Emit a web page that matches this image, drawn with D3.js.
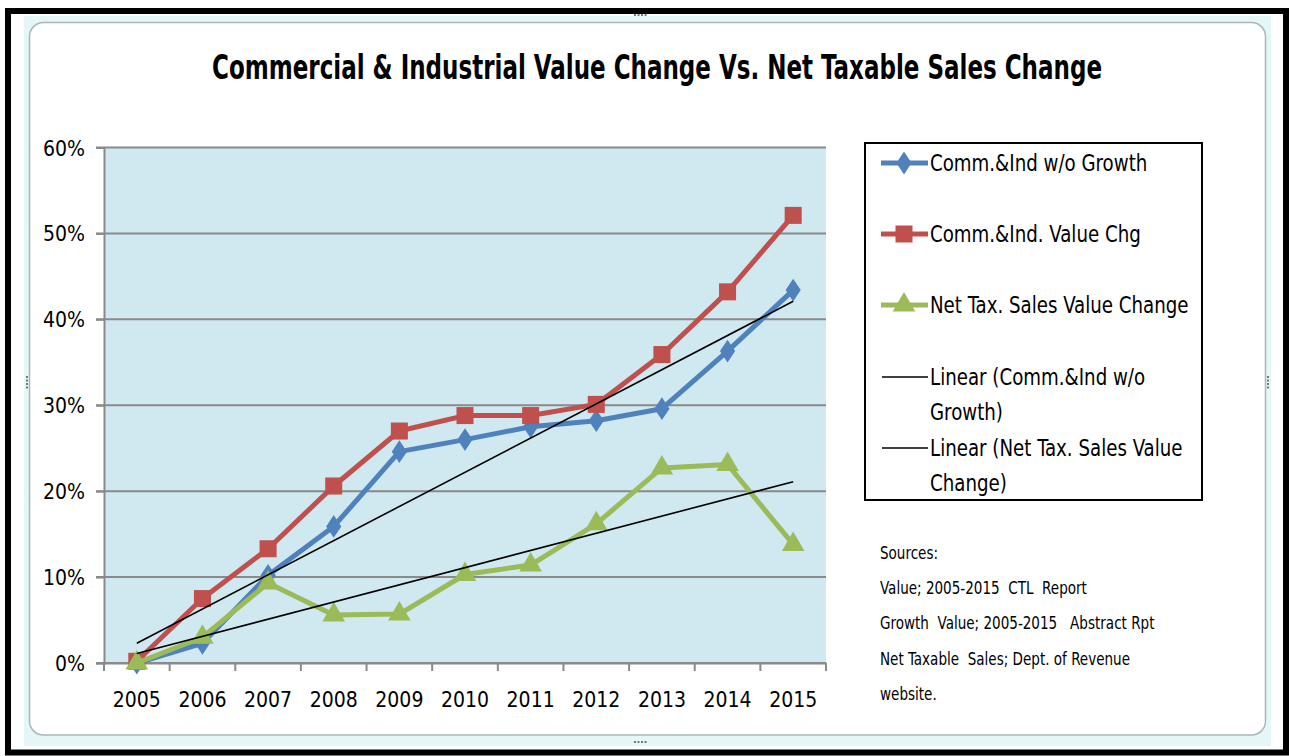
<!DOCTYPE html>
<html lang="en">
<head>
<meta charset="UTF-8">
<title>Commercial & Industrial Value Change Vs. Net Taxable Sales Change</title>
<script src="https://d3js.org/d3.v7.min.js"></script>
<style>
    body { margin: 0; background: #fff; }
    svg text { font-family: "Liberation Sans Narrow", "DejaVu Sans Condensed", sans-serif; fill: #000; }
</style>
</head>
<body>
<div id="graph"></div>
<script>
    // values in percent
    const years = ["2005", "2006", "2007", "2008", "2009", "2010", "2011", "2012", "2013", "2014", "2015"];
    const ciNoGrowth = [0, 2.3, 10.2, 15.9, 24.6, 26.0, 27.5, 28.2, 29.6, 36.3, 43.4];
    const ciValueChg = [0.2, 7.5, 13.3, 20.6, 27.0, 28.8, 28.8, 30.1, 35.9, 43.2, 52.1];
    const netTaxSales = [0, 3.0, 9.3, 5.6, 5.7, 10.3, 11.4, 16.2, 22.7, 23.1, 13.8];
    // linear trendlines, value at 2005 and at 2015
    const trendNoGrowth = [2.3, 42.1];
    const trendNetTax = [1.1, 21.1];
    const yTicks = [0, 10, 20, 30, 40, 50, 60];
    const seriesNames = ["Comm.&Ind w/o Growth", "Comm.&Ind. Value Chg", "Net Tax. Sales Value Change"];
    const trendNames = [["Linear (Comm.&Ind w/o", "Growth)"], ["Linear (Net Tax. Sales Value", "Change)"]];
    const sources = ["Sources:", "Value; 2005-2015  CTL  Report", "Growth  Value; 2005-2015   Abstract Rpt",
        "Net Taxable  Sales; Dept. of Revenue", "website."];

    var width = 1289, height = 756;
    var svg = d3.select("#graph").append("svg")
        .attr("width", width)
        .attr("height", height);

    // sheet frame around the chart object
    svg.append("rect").attr("x", 24).attr("y", 16).attr("width", 1247).attr("height", 730)
        .attr("fill", "#e4f6f8");
    svg.append("rect").attr("x", 29.5).attr("y", 22.5).attr("width", 1236).attr("height", 712.5)
        .attr("rx", 14).attr("fill", "#fff").attr("stroke", "#a9b6b9").attr("stroke-width", 1.5);
    // selection handles
    var handles = [[634, 14], [26, 376], [1267, 376], [634, 741]];
    handles.forEach(function (h) {
        var vertical = h[0] < 100 || h[0] > 1200;
        for (let i = 0; i < 4; i++) {
            svg.append("rect")
                .attr("x", vertical ? h[0] : h[0] + i * 3.5)
                .attr("y", vertical ? h[1] + i * 3.5 : h[1])
                .attr("width", 2).attr("height", 2).attr("fill", "#777");
        }
    });
    svg.append("rect").attr("x", 8).attr("y", 11).attr("width", 1278).attr("height", 741.5)
        .attr("fill", "none").attr("stroke", "#000").attr("stroke-width", 6);

    // title
    svg.append("text")
        .attr("x", 657).attr("y", 79)
        .attr("text-anchor", "middle")
        .attr("font-weight", "bold")
        .attr("font-size", 33)
        .attr("textLength", 890)
        .attr("lengthAdjust", "spacingAndGlyphs")
        .text("Commercial & Industrial Value Change Vs. Net Taxable Sales Change");

    // scales
    var plotL = 104, plotR = 826, plotT = 147.5, plotB = 663;
    var xband = d3.scaleBand().domain(years).range([plotL, plotR]).padding(0);
    var x = d3.scalePoint().domain(years).range([plotL, plotR]).padding(0.5);
    var y = d3.scaleLinear().domain([0, 60]).range([plotB, plotT]);

    svg.append("rect").attr("x", plotL).attr("y", plotT).attr("width", plotR - plotL).attr("height", plotB - plotT)
        .attr("fill", "#d0e8ef");

    // grid
    svg.selectAll(".grid").data(yTicks).enter().append("line")
        .attr("class", "grid")
        .attr("x1", plotL - 8).attr("x2", plotR)
        .attr("y1", d => y(d)).attr("y2", d => y(d))
        .attr("stroke", "#8a8a8a").attr("stroke-width", 2);

    // y axis
    var yAxis = svg.append("g")
        .attr("transform", "translate(" + plotL + ",0)")
        .call(d3.axisLeft(y).tickValues(yTicks).tickFormat(d => d + "%").tickSize(8).tickPadding(11));
    yAxis.select(".domain").attr("stroke", "#8a8a8a").attr("stroke-width", 2);
    yAxis.selectAll(".tick line").attr("stroke", "#8a8a8a").attr("stroke-width", 2);
    yAxis.selectAll("text").attr("font-size", 21).attr("dy", "0.36em")
        .style("font-family", "'Liberation Sans Narrow', 'DejaVu Sans Condensed', sans-serif");

    // x axis: labels centred, ticks on category boundaries
    var xAxis = svg.append("g")
        .attr("transform", "translate(0," + plotB + ")")
        .call(d3.axisBottom(xband).tickSize(0).tickPadding(29));
    xAxis.select(".domain").attr("stroke", "#8a8a8a").attr("stroke-width", 2);
    xAxis.selectAll("text").attr("font-size", 21)
        .style("font-family", "'Liberation Sans Narrow', 'DejaVu Sans Condensed', sans-serif");
    var bounds = years.map(d => xband(d)).concat([xband(years[years.length - 1]) + xband.bandwidth()]);
    svg.selectAll(".xtick").data(bounds).enter().append("line")
        .attr("class", "xtick")
        .attr("x1", d => d).attr("x2", d => d)
        .attr("y1", plotB).attr("y2", plotB + 8)
        .attr("stroke", "#8a8a8a").attr("stroke-width", 2);

    var colors = ["#4f81bd", "#c0504d", "#9bbb59"];
    var shapes = [d3.symbolDiamond, d3.symbolSquare, d3.symbolTriangle];
    var sizes = [150, 290, 220];
    var allSeries = [ciNoGrowth, ciValueChg, netTaxSales];

    var line = d3.line().x((d, i) => x(years[i])).y(d => y(d));

    allSeries.forEach(function (vals, s) {
        svg.append("path")
            .attr("d", line(vals))
            .attr("fill", "none")
            .attr("stroke", colors[s])
            .attr("stroke-width", 5)
            .attr("stroke-linejoin", "round");
        svg.selectAll(".m" + s).data(vals).enter().append("path")
            .attr("class", "m" + s)
            .attr("transform", (d, i) => "translate(" + x(years[i]) + "," + y(d) + ")" + (s === 0 ? " scale(1.15,1)" : ""))
            .attr("d", d3.symbol().type(shapes[s]).size(sizes[s]))
            .attr("fill", colors[s]);
    });

    // trendlines
    [trendNoGrowth, trendNetTax].forEach(function (t) {
        svg.append("line")
            .attr("x1", x(years[0])).attr("y1", y(t[0]))
            .attr("x2", x(years[years.length - 1])).attr("y2", y(t[1]))
            .attr("stroke", "#000").attr("stroke-width", 1.6);
    });

    // legend
    var lg = svg.append("g");
    lg.append("rect").attr("x", 865).attr("y", 143).attr("width", 337).attr("height", 357)
        .attr("fill", "#fff").attr("stroke", "#000").attr("stroke-width", 2);
    var rowY = [163, 234, 305];
    seriesNames.forEach(function (name, s) {
        lg.append("line").attr("x1", 881).attr("x2", 928).attr("y1", rowY[s]).attr("y2", rowY[s])
            .attr("stroke", colors[s]).attr("stroke-width", 5);
        lg.append("path")
            .attr("transform", "translate(904," + rowY[s] + ")" + (s === 0 ? " scale(1.15,1)" : ""))
            .attr("d", d3.symbol().type(shapes[s]).size(sizes[s]))
            .attr("fill", colors[s]);
        lg.append("text").attr("transform", "translate(930," + rowY[s] + ") scale(0.88,1)")
            .attr("dy", "0.35em")
            .attr("font-size", 23).text(name);
    });
    var trendY = [377, 448];
    trendNames.forEach(function (lines, k) {
        lg.append("line").attr("x1", 882).attr("x2", 928).attr("y1", trendY[k]).attr("y2", trendY[k])
            .attr("stroke", "#000").attr("stroke-width", 1.6);
        lines.forEach(function (t, j) {
            lg.append("text").attr("transform", "translate(930," + (trendY[k] + j * 35) + ") scale(0.88,1)")
                .attr("dy", "0.35em")
                .attr("font-size", 23).text(t);
        });
    });

    // sources note
    svg.selectAll(".src").data(sources).enter().append("text")
        .attr("class", "src")
        .attr("transform", (d, i) => "translate(880," + (559 + i * 35.2) + ") scale(0.86,1)")
        .attr("font-size", 17.5)
        .attr("xml:space", "preserve")
        .style("white-space", "pre")
        .text(d => d);
</script>
</body>
</html>
